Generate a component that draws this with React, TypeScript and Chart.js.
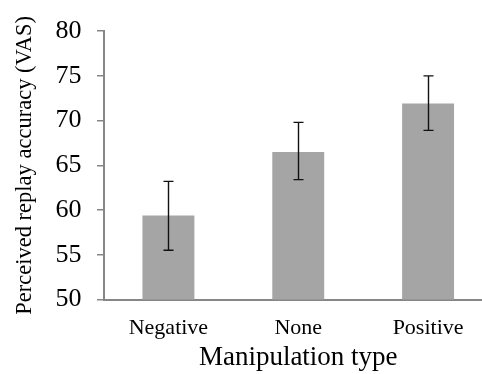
import React, { useEffect, useRef } from "react";
import { Chart, registerables } from "chart.js";

Chart.register(...registerables);

const categories = ["Negative", "None", "Positive"];
const meanValues = [59.4, 66.5, 71.9];
const errorHigh = [63.2, 69.8, 75.0];
const errorLow = [55.5, 63.4, 68.9];
const yTicks = [50, 55, 60, 65, 70, 75, 80];

const FONT = '"Liberation Serif", "Times New Roman", serif';
const AXIS = "#868686";

const errorBarPlugin = {
  id: "errorBars",
  afterDatasetsDraw(chart: any) {
    const { ctx, scales } = chart;
    const xs = scales.x;
    const ys = scales.y;
    ctx.save();
    ctx.strokeStyle = "#111";
    ctx.lineWidth = 1.4;
    const cap = 5;
    categories.forEach((_, i) => {
      const x = Math.round(xs.getPixelForValue(i)) + 0.5;
      const yt = ys.getPixelForValue(errorHigh[i]);
      const yb = ys.getPixelForValue(errorLow[i]);
      ctx.beginPath();
      ctx.moveTo(x, yt);
      ctx.lineTo(x, yb);
      ctx.moveTo(x - cap, yt);
      ctx.lineTo(x + cap, yt);
      ctx.moveTo(x - cap, yb);
      ctx.lineTo(x + cap, yb);
      ctx.stroke();
    });
    ctx.restore();
  },
};

export default function App() {
  const ref = useRef<HTMLCanvasElement | null>(null);
  useEffect(() => {
    if (!ref.current) return;
    const chart = new Chart(ref.current, {
      type: "bar",
      data: {
        labels: categories,
        datasets: [
          {
            data: meanValues,
            backgroundColor: "#A5A5A5",
            borderWidth: 0,
            barPercentage: 0.4,
            categoryPercentage: 1,
          },
        ],
      },
      options: {
        animation: false,
        responsive: false,
        devicePixelRatio: 1,
        layout: { padding: { top: 20.7, left: 0, right: 0, bottom: 0 } },
        plugins: { legend: { display: false }, tooltip: { enabled: false } },
        scales: {
          x: {
            afterFit: (s: any) => {
              s.height = 74.5;
            },
            grid: { display: true, drawOnChartArea: false, drawTicks: false },
            border: { color: AXIS, width: 2 },
            ticks: {
              color: "#000",
              padding: 15.6,
              font: { family: FONT, size: 22 },
            },
            title: {
              display: true,
              text: "Manipulation type",
              color: "#000",
              font: { family: FONT, size: 27 },
              padding: { top: 0, bottom: 0 },
            },
          },
          y: {
            min: 50,
            max: 80,
            afterFit: (s: any) => {
              s.width = 103.5;
            },
            afterBuildTicks: (s: any) => {
              s.ticks = yTicks.map((v) => ({ value: v }));
            },
            grid: {
              display: true,
              drawOnChartArea: false,
              drawTicks: true,
              tickLength: 6.5,
              color: AXIS,
              lineWidth: 1.5,
            },
            border: { color: AXIS, width: 2 },
            ticks: {
              color: "#000",
              padding: 15.5,
              font: { family: FONT, size: 26 },
            },
            title: {
              display: true,
              text: "Perceived replay accuracy (VAS)",
              color: "#000",
              font: { family: FONT, size: 22.5 },
              padding: { top: 11.5, bottom: 0 },
            },
          },
        },
      },
      plugins: [errorBarPlugin],
    });
    return () => chart.destroy();
  }, []);

  return (
    <div
      style={{
        position: "fixed",
        left: 0,
        top: 0,
        width: 482,
        height: 374,
        overflow: "hidden",
        background: "#fff",
      }}
    >
      <canvas
        ref={ref}
        width={493}
        height={374}
        style={{ width: "493px", height: "374px", display: "block" }}
      />
    </div>
  );
}
